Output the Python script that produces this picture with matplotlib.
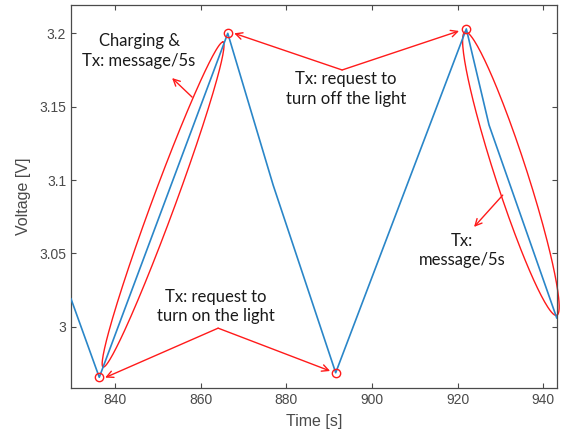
import numpy as np
import matplotlib
matplotlib.use("Agg")
import matplotlib.pyplot as plt

# ---- data ----
time_s = [829.7, 836.3, 866.3, 876.9, 891.5, 922.0, 927.3, 943.1]
voltage_v = [3.019, 2.9655, 3.200, 3.0965, 2.9686, 3.203, 3.1375, 3.006]
event_t = [836.3, 866.3, 891.5, 922.0]
event_v = [2.9655, 3.200, 2.9686, 3.203]
xticks = [840, 860, 880, 900, 920, 940]
yticks = [3.0, 3.05, 3.1, 3.15, 3.2]
ytick_labels = ["3", "3.05", "3.1", "3.15", "3.2"]

BLUE = "#2a86c8"
RED = "#ff1a1a"
AX = "#4a4a4a"
ANN_FONT = ["Lato", "DejaVu Sans"]

fig = plt.figure(figsize=(5.64, 4.43), dpi=100)
ax = fig.add_axes([71 / 564, 54.7 / 443, 485.7 / 564, 383.3 / 443])

ax.plot(time_s, voltage_v, color=BLUE, lw=1.2, zorder=3)
ax.plot(event_t, event_v, "o", mfc="none", mec=RED, ms=6, mew=1.0, zorder=4)

ax.set_xlim(829.7, 943.1)
ax.set_ylim(2.958, 3.2193)
ax.set_xticks(xticks)
ax.set_yticks(yticks)
ax.set_yticklabels(ytick_labels)
ax.tick_params(direction="in", top=True, right=True, length=3.5, width=0.8,
               colors=AX, labelsize=10)
for lab in ax.get_xticklabels() + ax.get_yticklabels():
    lab.set_family("Liberation Sans")
for s in ax.spines.values():
    s.set_color(AX)
    s.set_linewidth(0.9)
ax.set_xlabel("Time [s]", fontsize=11.5, color=AX, family="Liberation Sans", labelpad=5)
ax.set_ylabel("Voltage [V]", fontsize=11.5, color=AX, family="Liberation Sans", labelpad=6)


def ellipse(p1, p2, b_px):
    d1 = ax.transData.transform(p1)
    d2 = ax.transData.transform(p2)
    c = (d1 + d2) / 2
    u = (d2 - d1)
    a = np.linalg.norm(u) / 2
    u = u / np.linalg.norm(u)
    n = np.array([-u[1], u[0]])
    th = np.linspace(0, 2 * np.pi, 200)
    pts = c + np.outer(a * np.cos(th), u) + np.outer(b_px * np.sin(th), n)
    dp = ax.transData.inverted().transform(pts)
    ax.plot(dp[:, 0], dp[:, 1], color=RED, lw=1.0, zorder=2, clip_on=False)


ellipse((837.2, 2.9725), (865.2, 3.194), 11.5)
ellipse((921.7, 3.2009), (943.1, 3.0077), 16.0)

ap = dict(arrowstyle="->", color=RED, lw=1.0, shrinkA=0, shrinkB=0, mutation_scale=12)

# Charging label
ax.text(845.6, 3.188, "Charging &\nTx: message/5s", ha="center", va="center",
        fontsize=12, family=ANN_FONT, color="#1a1a1a", linespacing=1.25)
ax.annotate("", xy=(853.3, 3.1695), xytext=(857.98, 3.1565), arrowprops=ap)

# Turn off label
ax.text(893.9, 3.162, "Tx: request to\nturn off the light", ha="center", va="center",
        fontsize=12, family=ANN_FONT, color="#1a1a1a", linespacing=1.25)
ax.annotate("", xy=(867.8, 3.2), xytext=(893.0, 3.175), arrowprops=ap)
ax.annotate("", xy=(920.3, 3.2016), xytext=(893.0, 3.175), arrowprops=ap)

# Turn on label
ax.text(863.6, 3.0138, "Tx: request to\nturn on the light", ha="center", va="center",
        fontsize=12, family=ANN_FONT, color="#1a1a1a", linespacing=1.25)
ax.annotate("", xy=(837.67, 2.9653), xytext=(864.05, 2.999), arrowprops=ap)
ax.annotate("", xy=(890.2, 2.9698), xytext=(864.05, 2.999), arrowprops=ap)

# Right label
ax.text(921.0, 3.0518, "Tx:\nmessage/5s", ha="center", va="center",
        fontsize=12, family=ANN_FONT, color="#1a1a1a", linespacing=1.25)
ax.annotate("", xy=(923.8, 3.068), xytext=(930.5, 3.0897), arrowprops=ap)

fig.savefig("out.png", dpi=100, facecolor="white")
